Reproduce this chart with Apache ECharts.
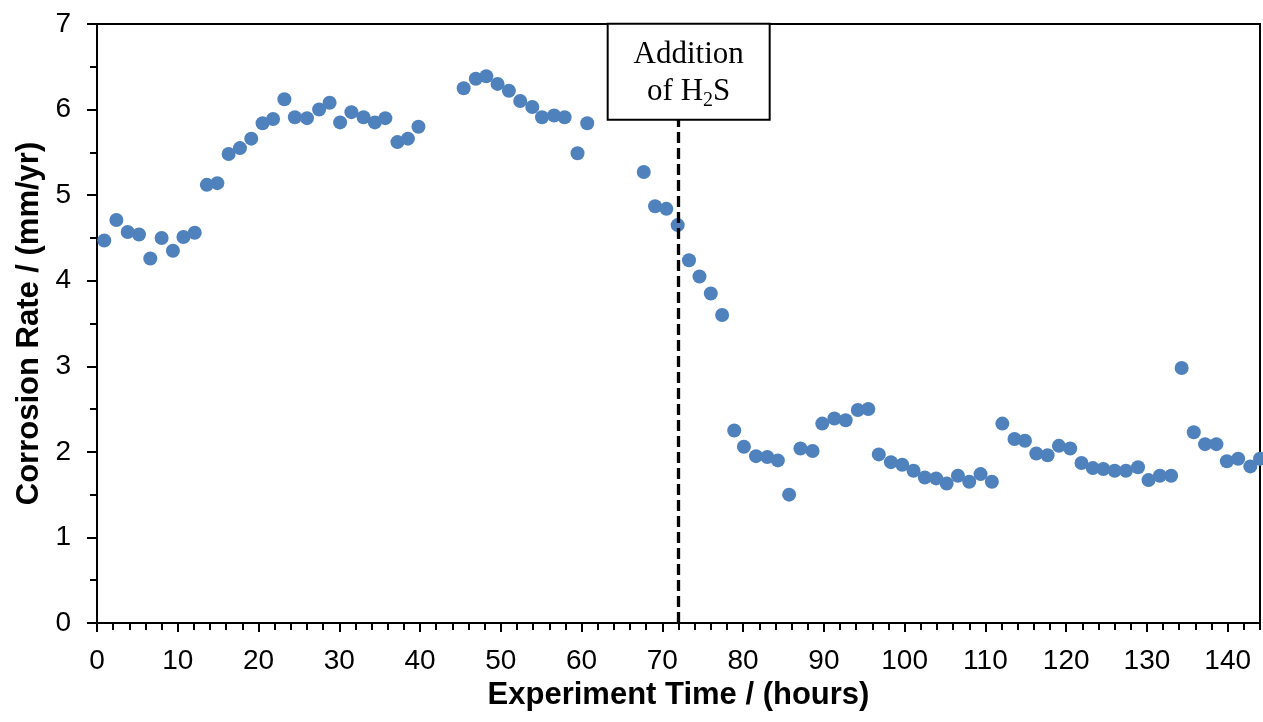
<!DOCTYPE html>
<html>
<head>
<meta charset="utf-8">
<script src="https://cdn.jsdelivr.net/npm/echarts@6/dist/echarts.min.js"></script>
<style>
html,body{margin:0;padding:0;background:#fff;}
#chart{width:1263px;height:722px;}
</style>
</head>
<body>
<div id="chart"></div>
<script>
// Experiment time (hours)
const timeHours = [0.9,2.4,3.8,5.2,6.6,8.0,9.4,10.7,12.1,13.6,14.9,16.3,17.7,19.1,20.5,21.8,23.2,24.5,26.0,27.5,28.8,30.1,31.5,33.0,34.4,35.7,37.2,38.5,39.8,
  45.4,46.9,48.2,49.6,51.0,52.4,53.9,55.1,56.6,57.9,59.5,60.7,
  67.7,69.1,70.5,71.9,73.3,74.6,76.0,77.4,
  78.9,80.1,81.6,83.0,84.3,85.7,87.1,88.6,
  89.8,91.3,92.7,94.2,95.5,96.8,98.3,99.7,101.1,102.5,103.9,105.2,106.6,108.0,109.4,110.8,112.1,113.6,114.9,116.3,117.7,119.1,120.5,121.9,123.3,124.6,126.0,127.4,128.9,130.2,131.6,133.0,134.3,135.8,137.2,138.6,139.9,141.3,142.8,144.0];
// Corrosion rate (mm/yr)
const corrosionRate = [4.47,4.71,4.57,4.54,4.26,4.50,4.35,4.51,4.56,5.12,5.14,5.48,5.55,5.66,5.84,5.89,6.12,5.91,5.90,6.00,6.08,5.85,5.97,5.91,5.85,5.90,5.62,5.66,5.80,
  6.25,6.36,6.39,6.30,6.22,6.10,6.03,5.91,5.93,5.91,5.49,5.84,
  5.27,4.87,4.84,4.65,4.24,4.05,3.85,3.60,
  2.25,2.06,1.95,1.94,1.90,1.50,2.04,2.01,
  2.33,2.39,2.37,2.49,2.50,1.97,1.88,1.85,1.78,1.70,1.69,1.63,1.72,1.65,1.74,1.65,2.33,2.15,2.13,1.98,1.96,2.07,2.04,1.87,1.81,1.80,1.78,1.78,1.82,1.67,1.72,1.72,2.98,2.23,2.09,2.09,1.89,1.92,1.83,1.92];
// H2S addition time and annotation
const h2sTime = 72;
const h2sLineTop = 5.89;
const annotationAnchor = [73.26, 6.443];
const xTitle = 'Experiment Time / (hours)';
const yTitle = 'Corrosion Rate / (mm/yr)';

const points = timeHours.map((t, i) => [t, corrosionRate[i]]);
const sans = '"Liberation Sans", Arial, sans-serif';
const serif = '"Liberation Serif", "Times New Roman", serif';

const chart = echarts.init(document.getElementById('chart'), null, {renderer: 'canvas'});
chart.setOption({
  animation: false,
  backgroundColor: '#fff',
  grid: {left: 97, right: 3, top: 24, bottom: 99, show: true, borderColor: '#000', borderWidth: 2, backgroundColor: 'transparent'},
  xAxis: [{
    type: 'value', min: 0, max: 144, interval: 10, position: 'bottom',
    axisLine: {show: true, onZero: false, lineStyle: {color: '#000', width: 2}},
    axisTick: {show: true, inside: false, length: 9, lineStyle: {color: '#000', width: 2}},
    axisLabel: {show: true, showMaxLabel: false, color: '#000', fontSize: 28, fontFamily: sans, margin: 24},
    splitLine: {show: false},
    name: xTitle, nameLocation: 'middle', nameGap: 54,
    nameTextStyle: {color: '#000', fontSize: 31, fontWeight: 'bold', fontFamily: sans}
  }, {
    type: 'value', min: 0, max: 144, interval: 2, position: 'bottom',
    axisLine: {show: false},
    axisTick: {show: true, inside: false, length: 7, lineStyle: {color: '#000', width: 2}},
    axisLabel: {show: false},
    splitLine: {show: false}
  }],
  yAxis: {
    type: 'value', min: 0, max: 7, interval: 1,
    axisLine: {show: true, onZero: false, lineStyle: {color: '#000', width: 2}},
    axisTick: {show: true, inside: false, length: 10, lineStyle: {color: '#000', width: 2}},
    minorTick: {show: true, splitNumber: 2, length: 7, lineStyle: {color: '#000', width: 2}},
    axisLabel: {color: '#000', fontSize: 28, fontFamily: sans, margin: 26},
    splitLine: {show: false},
    name: yTitle, nameLocation: 'middle', nameGap: 52,
    nameTextStyle: {color: '#000', fontSize: 31, fontWeight: 'bold', fontFamily: sans}
  },
  series: [{
    type: 'scatter',
    xAxisIndex: 0,
    data: points,
    symbol: 'circle',
    symbolSize: 14,
    clip: true,
    itemStyle: {color: '#4F81BD', opacity: 1},
    markLine: {
      silent: true,
      symbol: ['none', 'none'],
      label: {show: false},
      lineStyle: {color: '#000', width: 3.3, type: [11, 5]},
      data: [[{coord: [h2sTime, 0]}, {coord: [h2sTime, h2sLineTop]}]]
    },
    markPoint: {
      silent: true,
      symbol: 'rect',
      symbolSize: [0, 0],
      data: [{coord: annotationAnchor}],
      label: {
        show: true,
        position: 'inside',
        formatter: '{a|Addition}\n{a|of H}{s|2}{a|S}',
        backgroundColor: '#fff',
        borderColor: '#000',
        borderWidth: 2,
        width: 160,
        align: 'center',
        verticalAlign: 'middle',
        padding: [12, 0, 8, 0],
        rich: {
          a: {fontFamily: serif, fontSize: 31, lineHeight: 37, color: '#000'},
          s: {fontFamily: serif, fontSize: 20, lineHeight: 20, color: '#000', verticalAlign: 'bottom'}
        }
      }
    }
  }]
});
</script>
</body>
</html>
